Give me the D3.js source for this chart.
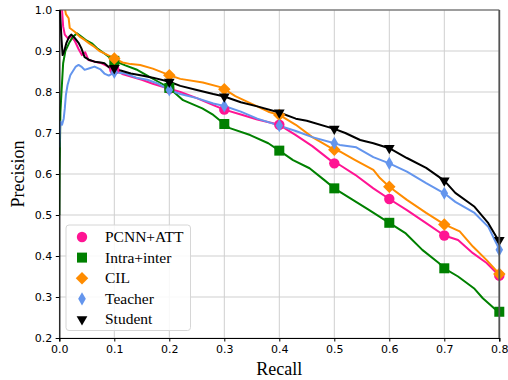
<!DOCTYPE html>
<html>
<head>
<meta charset="utf-8">
<script src="https://cdn.jsdelivr.net/npm/d3@7"></script>
<style>
  body { margin: 0; background: #fff; }
  .tick text { font-family: "DejaVu Sans", sans-serif; font-size: 11px; fill: #000; }
  .serif { font-family: "Liberation Serif", "Times New Roman", "DejaVu Serif", serif; fill: #000; }
</style>
</head>
<body>
<div id="chart"></div>
<script>
const recallTicks = [0.0, 0.1, 0.2, 0.3, 0.4, 0.5, 0.6, 0.7, 0.8];
const precisionTicks = [0.2, 0.3, 0.4, 0.5, 0.6, 0.7, 0.8, 0.9, 1.0];
const markerRecalls = [0.1, 0.2, 0.3, 0.4, 0.5, 0.6, 0.7, 0.8];

const seriesNames = ['PCNN+ATT', 'Intra+inter', 'CIL', 'Teacher', 'Student'];

// [recall, precision] pairs
const pcnnAtt = [[0.004, 1.02], [0.007, 0.96], [0.010, 0.94], [0.016, 0.93], [0.022, 0.935], [0.028, 0.925],
  [0.035, 0.905], [0.041, 0.89], [0.047, 0.897], [0.053, 0.878], [0.065, 0.874], [0.077, 0.87],
  [0.089, 0.862], [0.1, 0.855], [0.116, 0.843], [0.13, 0.838], [0.15, 0.83], [0.17, 0.82], [0.2, 0.808],
  [0.22, 0.80], [0.25, 0.785], [0.28, 0.768], [0.3, 0.757], [0.33, 0.745], [0.36, 0.733], [0.4, 0.72],
  [0.43, 0.695], [0.46, 0.668], [0.5, 0.626], [0.51, 0.622], [0.538, 0.598], [0.571, 0.565], [0.6, 0.539],
  [0.632, 0.512], [0.667, 0.48], [0.7, 0.45], [0.725, 0.439], [0.752, 0.407], [0.777, 0.383], [0.8, 0.352]];

const intraInter = [[0.0, 0.5], [0.0005, 0.6], [0.002, 0.75], [0.004, 0.8], [0.007, 0.87], [0.011, 0.9],
  [0.018, 0.92], [0.025, 0.935], [0.032, 0.943], [0.04, 0.935], [0.05, 0.925], [0.06, 0.918], [0.07, 0.905],
  [0.082, 0.894], [0.1, 0.876], [0.12, 0.865], [0.14, 0.855], [0.16, 0.84], [0.18, 0.825], [0.2, 0.81],
  [0.225, 0.78], [0.26, 0.76], [0.28, 0.744], [0.3, 0.722], [0.31, 0.712], [0.347, 0.695], [0.38, 0.675],
  [0.4, 0.657], [0.425, 0.634], [0.455, 0.614], [0.482, 0.585], [0.5, 0.565], [0.53, 0.54], [0.56, 0.515],
  [0.6, 0.481], [0.63, 0.455], [0.66, 0.415], [0.69, 0.383], [0.7, 0.37], [0.725, 0.35], [0.755, 0.32],
  [0.77, 0.297], [0.79, 0.273], [0.8, 0.264]];

const cil = [[0.003, 1.05], [0.008, 1.02], [0.012, 0.99], [0.017, 0.98], [0.019, 0.956], [0.028, 0.947],
  [0.037, 0.935], [0.046, 0.927], [0.055, 0.918], [0.064, 0.91], [0.073, 0.90], [0.082, 0.894], [0.1, 0.882],
  [0.115, 0.872], [0.13, 0.868], [0.147, 0.866], [0.17, 0.857], [0.2, 0.841], [0.22, 0.832], [0.261, 0.823],
  [0.298, 0.81], [0.3, 0.807], [0.32, 0.79], [0.347, 0.773], [0.38, 0.752], [0.4, 0.744], [0.43, 0.72],
  [0.46, 0.69], [0.5, 0.659], [0.51, 0.655], [0.538, 0.634], [0.571, 0.61], [0.583, 0.59], [0.6, 0.569],
  [0.632, 0.537], [0.667, 0.505], [0.7, 0.477], [0.728, 0.46], [0.752, 0.423], [0.777, 0.39], [0.8, 0.356]];

const teacher = [[0.0, 0.665], [0.001, 0.70], [0.002, 0.728], [0.005, 0.72], [0.008, 0.735], [0.01, 0.76],
  [0.012, 0.793], [0.015, 0.817], [0.02, 0.841], [0.03, 0.862], [0.035, 0.866], [0.04, 0.862], [0.046, 0.854],
  [0.055, 0.858], [0.064, 0.862], [0.075, 0.855], [0.082, 0.845], [0.09, 0.84], [0.1, 0.848], [0.12, 0.845],
  [0.14, 0.835], [0.16, 0.83], [0.18, 0.82], [0.2, 0.805], [0.22, 0.795], [0.25, 0.785], [0.28, 0.772],
  [0.3, 0.766], [0.33, 0.752], [0.36, 0.735], [0.4, 0.718], [0.43, 0.705], [0.46, 0.69], [0.5, 0.675],
  [0.51, 0.671], [0.54, 0.665], [0.571, 0.641], [0.6, 0.626], [0.632, 0.606], [0.667, 0.578], [0.7, 0.553],
  [0.72, 0.532], [0.755, 0.505], [0.78, 0.471], [0.795, 0.43], [0.8, 0.415]];

const student = [[0.0, 1.02], [0.002, 0.98], [0.004, 0.93], [0.006, 0.89], [0.009, 0.90], [0.013, 0.92],
  [0.018, 0.935], [0.022, 0.94], [0.028, 0.932], [0.035, 0.92], [0.04, 0.907], [0.046, 0.885], [0.055, 0.878],
  [0.064, 0.874], [0.075, 0.872], [0.082, 0.87], [0.095, 0.855], [0.1, 0.858], [0.11, 0.853], [0.13, 0.845],
  [0.15, 0.84], [0.17, 0.835], [0.2, 0.825], [0.22, 0.815], [0.25, 0.805], [0.28, 0.795], [0.3, 0.789],
  [0.33, 0.775], [0.36, 0.765], [0.4, 0.75], [0.43, 0.735], [0.45, 0.73], [0.5, 0.71], [0.52, 0.70],
  [0.547, 0.683], [0.571, 0.675], [0.6, 0.663], [0.632, 0.639], [0.667, 0.615], [0.7, 0.584], [0.72, 0.554],
  [0.755, 0.52], [0.78, 0.48], [0.795, 0.446], [0.8, 0.439]];

const seriesData = [pcnnAtt, intraInter, cil, teacher, student];
const seriesColors = ['#ff1493', '#008000', '#ff8c00', '#6495ed', '#000000'];
const seriesSymbols = [
  { type: d3.symbolCircle, size: 85, rotate: 0 },
  { type: d3.symbolSquare, size: 100, rotate: 0 },
  { type: d3.symbolSquare, size: 78, rotate: 45 },
  { type: d3.symbolDiamond, size: 50, rotate: 0 },
  { type: d3.symbolTriangle, size: 50, rotate: 180 }
];

const width = 508;
const height = 380;
const margin = { top: 10, right: 8.7, bottom: 42, left: 59.3 };

const svg = d3.select('#chart')
  .append('svg')
  .attr('width', width)
  .attr('height', height);

const x = d3.scaleLinear()
  .domain([0, 0.8])
  .range([margin.left, width - margin.right]);

const y = d3.scaleLinear()
  .domain([0.2, 1.0])
  .range([height - margin.bottom, margin.top]);

svg.append('defs').append('clipPath')
  .attr('id', 'plot-clip')
  .append('rect')
  .attr('x', margin.left)
  .attr('y', margin.top)
  .attr('width', x(0.8) - x(0))
  .attr('height', y(0.2) - y(1.0));

// Grid
const grid = svg.append('g');
grid.selectAll('.vgrid')
  .data(recallTicks)
  .join('line')
  .attr('x1', d => x(d)).attr('x2', d => x(d))
  .attr('y1', y(0.2)).attr('y2', y(1.0))
  .attr('stroke', '#cfcfcf').attr('stroke-width', 1);
grid.selectAll('.hgrid')
  .data(precisionTicks)
  .join('line')
  .attr('class', 'hgrid')
  .attr('x1', x(0)).attr('x2', x(0.8))
  .attr('y1', d => y(d)).attr('y2', d => y(d))
  .attr('stroke', '#cfcfcf').attr('stroke-width', 1);

// Lines
const line = d3.line()
  .x(d => x(d[0]))
  .y(d => y(d[1]));

const plot = svg.append('g').attr('clip-path', 'url(#plot-clip)');

seriesData.forEach((data, i) => {
  plot.append('path')
    .datum(data)
    .attr('d', line)
    .attr('fill', 'none')
    .attr('stroke', seriesColors[i])
    .attr('stroke-width', 2)
    .attr('stroke-linejoin', 'round');
});

// Markers
seriesData.forEach((data, i) => {
  const sym = seriesSymbols[i];
  const pts = markerRecalls.map(r => data.find(d => Math.abs(d[0] - r) < 1e-9)).filter(d => d);
  svg.append('g')
    .selectAll('path')
    .data(pts)
    .join('path')
    .attr('transform', d => `translate(${x(d[0])},${y(d[1])}) rotate(${sym.rotate})`)
    .attr('d', d3.symbol().type(sym.type).size(sym.size))
    .attr('fill', seriesColors[i]);
});

// Spines
svg.append('line')
  .attr('x1', x(0)).attr('x2', x(0.8)).attr('y1', y(1.0)).attr('y2', y(1.0))
  .attr('stroke', '#555').attr('stroke-width', 1.2);
svg.append('line')
  .attr('x1', x(0.8)).attr('x2', x(0.8)).attr('y1', y(1.0)).attr('y2', y(0.2))
  .attr('stroke', '#555').attr('stroke-width', 1.8);

// Axes
svg.append('g')
  .attr('transform', `translate(0,${y(0.2)})`)
  .call(d3.axisBottom(x).tickValues(recallTicks).tickFormat(d3.format('.1f')).tickSize(3.5).tickPadding(3.5))
  .call(g => g.select('.domain').attr('stroke', '#000').attr('stroke-width', 1.2));

svg.append('g')
  .attr('transform', `translate(${x(0)},0)`)
  .call(d3.axisLeft(y).tickValues(precisionTicks).tickFormat(d3.format('.1f')).tickSize(3.5).tickPadding(3.5))
  .call(g => g.select('.domain').attr('stroke', '#000').attr('stroke-width', 1.2));

// Axis labels
svg.append('text')
  .attr('class', 'serif')
  .attr('x', (x(0) + x(0.8)) / 2)
  .attr('y', 375)
  .attr('text-anchor', 'middle')
  .style('font-size', '18px')
  .text('Recall');

svg.append('text')
  .attr('class', 'serif')
  .attr('transform', `translate(24,${(y(0.2) + y(1.0)) / 2}) rotate(-90)`)
  .attr('text-anchor', 'middle')
  .style('font-size', '18px')
  .text('Precision');

// Legend
const legend = svg.append('g');
legend.append('rect')
  .attr('x', 66).attr('y', 225)
  .attr('width', 124.5).attr('height', 105.5)
  .attr('rx', 3)
  .attr('fill', '#fff').attr('fill-opacity', 0.85)
  .attr('stroke', '#d6d6d6').attr('stroke-width', 1);

seriesNames.forEach((name, i) => {
  const sym = seriesSymbols[i];
  const ly = 237 + i * 20.6;
  legend.append('path')
    .attr('transform', `translate(82,${ly}) rotate(${sym.rotate})`)
    .attr('d', d3.symbol().type(sym.type).size(sym.size))
    .attr('fill', seriesColors[i]);
  legend.append('text')
    .attr('class', 'serif')
    .attr('x', 105)
    .attr('y', ly + 5)
    .style('font-size', '15.5px')
    .text(name);
});
</script>
</body>
</html>
